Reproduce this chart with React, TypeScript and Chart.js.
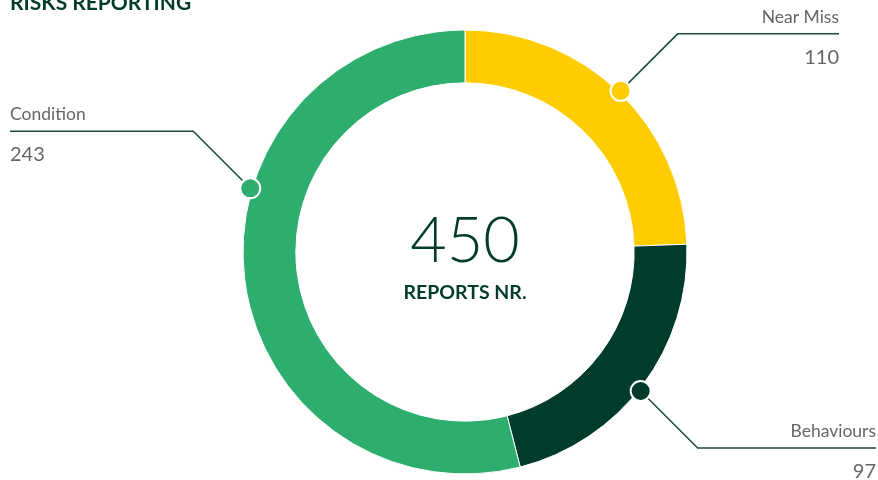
import React, { useEffect, useRef } from "react";
import { Chart, ArcElement, DoughnutController } from "chart.js";

Chart.register(ArcElement, DoughnutController);

const title = "RISKS REPORTING";
const centerLabel = "REPORTS NR.";
const categories = ["Near Miss", "Behaviours", "Condition"];
const values = [110, 97, 243];
const colors = ["#FFCC00", "#013B2B", "#2DAE6F"];

// callout layout (position of marker along the arc, leader direction, text edge)
const markerFraction = [0.5, 0.52, 0.622];
const leaderDir = [
  [1, -1],
  [1, 1],
  [-1, -1],
];
const textEdgeX = [839, 876, 10];

const DARK = "#013B2B";
const GREY = "#666666";
const FONT = "Lato, 'Open Sans', sans-serif";

const calloutPlugin = {
  id: "callouts",
  afterDraw(chart: any) {
    const ctx = chart.ctx as CanvasRenderingContext2D;
    const meta = chart.getDatasetMeta(0);
    ctx.save();
    // title
    ctx.fillStyle = DARK;
    ctx.font = `bold 21px ${FONT}`;
    ctx.textAlign = "left";
    ctx.textBaseline = "alphabetic";
    ctx.fillText(title, 10, 10);

    const first = meta.data[0];
    if (!first) {
      ctx.restore();
      return;
    }
    const cx = first.x;
    const cy = first.y;
    // center text
    const total = values.reduce((a, b) => a + b, 0);
    ctx.textAlign = "center";
    ctx.fillStyle = DARK;
    ctx.font = `300 63px ${FONT}`;
    ctx.fillText(String(total), cx, cy + 10);
    ctx.font = `bold 19.5px ${FONT}`;
    ctx.fillText(centerLabel, cx, cy + 47);

    meta.data.forEach((arc: any, i: number) => {
      const p = arc.getProps(["x", "y", "startAngle", "endAngle", "outerRadius"], true);
      const a = p.startAngle + markerFraction[i] * (p.endAngle - p.startAngle);
      const r = p.outerRadius + 2;
      const mx = p.x + Math.cos(a) * r;
      const my = p.y + Math.sin(a) * r;
      const [dx, dy] = leaderDir[i];
      const ex = mx + dx * 57;
      const ey = my + dy * 57;
      const tx = textEdgeX[i];
      // leader line
      ctx.strokeStyle = "#1d4a3b";
      ctx.lineWidth = 1.5;
      ctx.beginPath();
      ctx.moveTo(mx, my);
      ctx.lineTo(ex, ey);
      ctx.lineTo(tx, ey);
      ctx.stroke();
      // marker
      ctx.beginPath();
      ctx.arc(mx, my, 10, 0, Math.PI * 2);
      ctx.fillStyle = colors[i];
      ctx.fill();
      ctx.lineWidth = 2;
      ctx.strokeStyle = "#ffffff";
      ctx.stroke();
      // texts
      ctx.textAlign = dx > 0 ? "right" : "left";
      ctx.fillStyle = GREY;
      ctx.font = `400 17.5px ${FONT}`;
      ctx.fillText(categories[i], tx, ey - 11);
      ctx.font = `400 20px ${FONT}`;
      ctx.fillText(String(values[i]), tx, ey + 30);
    });
    ctx.restore();
  },
};

export default function App() {
  const ref = useRef<HTMLCanvasElement | null>(null);
  useEffect(() => {
    if (!ref.current) return;
    const chart = new Chart(ref.current, {
      type: "doughnut",
      data: {
        labels: categories,
        datasets: [
          {
            data: values,
            backgroundColor: colors,
            borderColor: "#ffffff",
            borderWidth: 1,
          },
        ],
      },
      options: {
        animation: false,
        responsive: false,
        radius: 222,
        cutout: 168,
        layout: { padding: { left: 244, right: 192, top: 31, bottom: 7 } },
        plugins: { legend: { display: false }, tooltip: { enabled: false } },
      },
      plugins: [calloutPlugin],
    });
    return () => chart.destroy();
  }, []);
  return (
    <div style={{ position: "fixed", left: 0, top: 0, width: 878, height: 480, background: "#fff" }}>
      <canvas ref={ref} width={878} height={480} />
    </div>
  );
}
